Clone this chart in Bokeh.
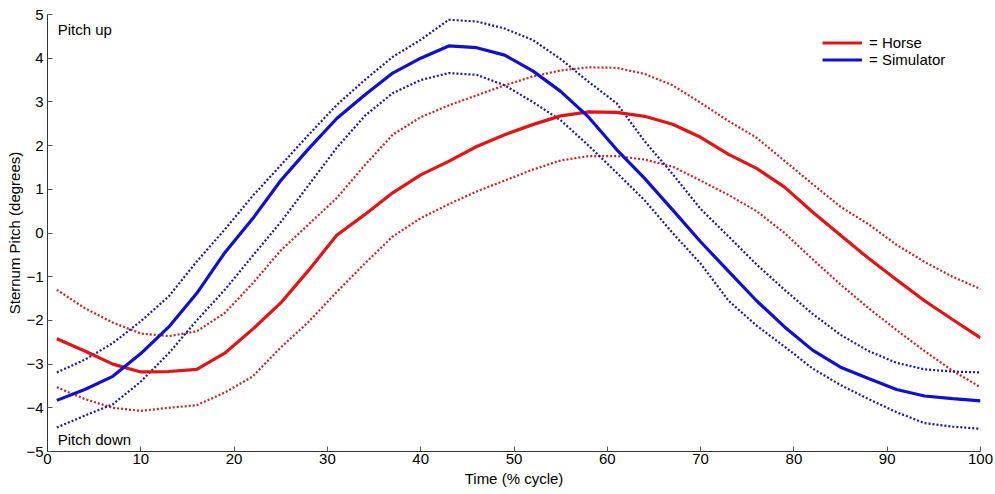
from bokeh.plotting import figure
from bokeh.models import Legend, LegendItem, FixedTicker, Range1d, Label
from bokeh.embed import file_html
from bokeh.resources import INLINE

# ---- data ----
time = [1, 4, 7, 10, 13, 16, 19, 22, 25, 28, 31, 34, 37, 40, 43, 46, 49, 52, 55,
        58, 61, 64, 67, 70, 73, 76, 79, 82, 85, 88, 91, 94, 97, 100]

horse_mean = [-2.42, -2.70, -3.00, -3.18, -3.17, -3.12, -2.75, -2.20, -1.60, -0.85,
              -0.05, 0.42, 0.92, 1.33, 1.64, 1.98, 2.25, 2.48, 2.68, 2.77, 2.76,
              2.67, 2.49, 2.19, 1.80, 1.48, 1.05, 0.48, -0.05, -0.58, -1.07, -1.55,
              -1.98, -2.40]
horse_upper = [-1.30, -1.72, -2.05, -2.30, -2.36, -2.25, -1.83, -1.15, -0.40, 0.20,
               0.80, 1.55, 2.25, 2.65, 2.92, 3.15, 3.38, 3.58, 3.72, 3.79, 3.78,
               3.64, 3.38, 2.98, 2.56, 2.18, 1.65, 1.12, 0.60, 0.20, -0.27, -0.66,
               -1.00, -1.28]
horse_lower = [-3.53, -3.80, -4.00, -4.07, -4.00, -3.94, -3.65, -3.28, -2.62, -2.03,
               -1.35, -0.70, -0.08, 0.34, 0.66, 0.95, 1.20, 1.45, 1.66, 1.76, 1.76,
               1.68, 1.52, 1.20, 0.87, 0.50, 0.00, -0.60, -1.18, -1.72, -2.22, -2.70,
               -3.15, -3.53]

sim_mean = [-3.83, -3.58, -3.28, -2.76, -2.15, -1.38, -0.45, 0.33, 1.20, 1.93,
            2.62, 3.16, 3.66, 4.00, 4.28, 4.24, 4.07, 3.71, 3.24, 2.65, 1.91,
            1.25, 0.53, -0.20, -0.88, -1.55, -2.15, -2.68, -3.07, -3.33, -3.58,
            -3.73, -3.79, -3.84]
sim_upper = [-3.19, -2.90, -2.52, -2.02, -1.45, -0.65, 0.08, 0.85, 1.55, 2.25,
             2.93, 3.50, 4.03, 4.42, 4.88, 4.84, 4.68, 4.42, 3.98, 3.46, 2.97,
             2.10, 1.35, 0.55, -0.08, -0.72, -1.30, -1.85, -2.33, -2.70, -2.97,
             -3.12, -3.17, -3.19]
sim_lower = [-4.45, -4.18, -3.92, -3.40, -2.75, -2.00, -1.30, -0.52, 0.25, 1.10,
             1.95, 2.68, 3.20, 3.50, 3.66, 3.62, 3.38, 3.00, 2.58, 2.00, 1.38,
             0.75, 0.00, -0.70, -1.55, -2.12, -2.60, -3.10, -3.48, -3.80, -4.10,
             -4.35, -4.43, -4.48]

x_ticks = [0, 10, 20, 30, 40, 50, 60, 70, 80, 90, 100]
y_ticks = [-5, -4, -3, -2, -1, 0, 1, 2, 3, 4, 5]

series_names = ["= Horse", "= Simulator"]

FONT = "Liberation Sans"
FS = "15px"
RED = "#e41414"
BLUE = "#1010d4"
RED_DOT = "#cc2222"
BLUE_DOT = "#1a1a9c"

p = figure(width=995, height=494, output_backend="svg", toolbar_location=None,
           x_range=Range1d(0, 100), y_range=Range1d(-5, 5),
           min_border_left=47, min_border_right=15, min_border_top=14,
           min_border_bottom=43)
p.outline_line_color = None
p.grid.visible = False
p.background_fill_color = "white"
p.border_fill_color = "white"

# dotted +/- bands
p.line(time, horse_upper, line_color=RED_DOT, line_width=2.2, line_dash="2 2")
p.line(time, horse_lower, line_color=RED_DOT, line_width=2.2, line_dash="2 2")
p.line(time, sim_upper, line_color=BLUE_DOT, line_width=2.2, line_dash="2 2")
p.line(time, sim_lower, line_color=BLUE_DOT, line_width=2.2, line_dash="2 2")

# means
r_h = p.line(time, horse_mean, line_color=RED, line_width=3.2)
r_s = p.line(time, sim_mean, line_color=BLUE, line_width=3.2)

for ax in (p.xaxis[0], p.yaxis[0]):
    ax.major_tick_in = 5
    ax.major_tick_out = 0
    ax.minor_tick_line_color = None
    ax.axis_line_color = "#333333"
    ax.major_tick_line_color = "#555555"
    ax.major_label_text_font = FONT
    ax.major_label_text_font_size = FS
    ax.major_label_text_color = "black"
    ax.axis_label_text_font = FONT
    ax.axis_label_text_font_size = FS
    ax.axis_label_text_font_style = "normal"
    ax.axis_label_text_color = "black"

p.xaxis.ticker = FixedTicker(ticks=x_ticks)
p.yaxis.ticker = FixedTicker(ticks=y_ticks)
p.xaxis.axis_label = "Time (% cycle)"
p.yaxis.axis_label = "Sternum Pitch (degrees)"
p.xaxis.major_label_standoff = 2
p.xaxis.axis_label_standoff = 3
p.yaxis.major_label_standoff = 4
p.yaxis.axis_label_standoff = 0

p.add_layout(Label(x=1.1, y=4.66, text="Pitch up", text_font=FONT,
                   text_font_size=FS, text_baseline="middle", text_color="black"))
p.add_layout(Label(x=1.1, y=-4.72, text="Pitch down", text_font=FONT,
                   text_font_size=FS, text_baseline="middle", text_color="black"))

legend = Legend(items=[LegendItem(label=series_names[0], renderers=[r_h]),
                       LegendItem(label=series_names[1], renderers=[r_s])],
                location=(775, 383), orientation="vertical")
legend.glyph_width = 40
legend.glyph_height = 17
legend.label_height = 17
legend.label_standoff = 7
legend.spacing = 0
legend.padding = 0
legend.margin = 0
legend.border_line_color = None
legend.background_fill_alpha = 0
legend.label_text_font = FONT
legend.label_text_font_size = FS
legend.label_text_color = "black"
p.add_layout(legend)

open("out.html", "w").write(file_html(p, INLINE))
